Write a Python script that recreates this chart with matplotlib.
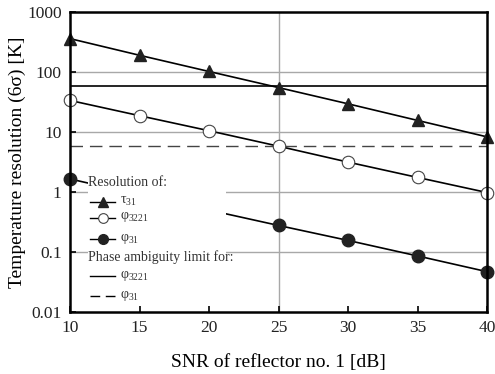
import matplotlib
matplotlib.use("Agg")
import matplotlib.pyplot as plt
from matplotlib.patches import Rectangle
from matplotlib.lines import Line2D

plt.rcParams['font.family'] = ['Liberation Serif', 'DejaVu Serif']
plt.rcParams['mathtext.fontset'] = 'custom'
plt.rcParams['mathtext.rm'] = 'Liberation Serif'
plt.rcParams['mathtext.it'] = 'Liberation Serif:italic'

# data
snr = [10, 15, 20, 25, 30, 35, 40]
tau31 = [360, 190, 102, 55, 29.5, 15.6, 8.3]
phi3221 = [33.6, 18.7, 10.5, 5.8, 3.15, 1.75, 0.98]
phi31 = [1.65, 0.9, 0.5, 0.277, 0.156, 0.086, 0.047]
limit_phi3221 = 57.6
limit_phi31 = 5.76

xticks = [10, 15, 20, 25, 30, 35, 40]
yticks = [0.01, 0.1, 1, 10, 100, 1000]
ytick_labels = ['0.01', '0.1', '1', '10', '100', '1000']

fig = plt.figure(figsize=(4.95, 3.74), dpi=100)
ax = fig.add_axes([70/495, 1 - 312/374, 417/495, 300/374])
ax.set_yscale('log')
ax.set_xlim(10, 40)
ax.set_ylim(0.01, 1000)

# grid: horizontal decades, vertical only at 25
for yv in yticks[1:-1]:
    ax.axhline(yv, color='#a8a8a8', lw=1.0, zorder=1)
ax.axvline(25, color='#a8a8a8', lw=1.0, zorder=1)

# phase ambiguity limits
ax.axhline(limit_phi3221, color='black', lw=1.2, zorder=2)
ax.axhline(limit_phi31, color='#444444', lw=1.0, dashes=(9, 5), zorder=2)

ax.plot(snr, tau31, '-', color='black', lw=1.2, marker='^', ms=9,
        mfc='#222222', mec='#222222', zorder=3, clip_on=False)
ax.plot(snr, phi3221, '-', color='black', lw=1.2, marker='o', ms=9,
        mfc='white', mec='#444444', mew=0.8, zorder=3, clip_on=False)
ax.plot(snr, phi31, '-', color='black', lw=1.2, marker='o', ms=9,
        mfc='#222222', mec='#222222', zorder=3, clip_on=False)

# hand made legend (white box hides what's behind)
ax.add_patch(Rectangle((0.043, 0.023), 0.331, 0.414, transform=ax.transAxes,
                       facecolor='white', edgecolor='none', zorder=4))

def ypx(p):
    return (312 - p) / 300

hx0, hx1, tx = (90 - 70) / 417, (115 - 70) / 417, (120 - 70) / 417
fs = 10
ax.text(hx0 - 0.004, ypx(183), 'Resolution of:', transform=ax.transAxes, fontsize=fs,
        va='center', ha='left', color='#333333', zorder=5)
ax.text(hx0 - 0.004, ypx(257), 'Phase ambiguity limit for:', transform=ax.transAxes,
        fontsize=fs, va='center', ha='left', color='#333333', zorder=5)

entries = [
    (201.5, r'τ$_{31}$', dict(marker='^', ms=7, mfc='#222222', mec='#222222'), '-'),
    (217.5, r'φ$_{3221}$', dict(marker='o', ms=7, mfc='white', mec='#444444', mew=0.8), '-'),
    (239, r'φ$_{31}$', dict(marker='o', ms=7, mfc='#222222', mec='#222222'), '-'),
    (276, r'φ$_{3221}$', dict(), '-'),
    (296, r'φ$_{31}$', dict(), '--'),
]
for p, label, mk, ls in entries:
    y = ypx(p)
    ln = Line2D([hx0, hx1], [y, y], transform=ax.transAxes, color='black',
                lw=1.0, ls=ls, zorder=5)
    if ls == '--':
        ln.set_dashes((7, 4))
    ax.add_line(ln)
    if mk:
        ax.add_line(Line2D([(hx0 + hx1) / 2], [y], transform=ax.transAxes,
                           ls='none', zorder=6, **mk))
    ax.text(tx, y, label, transform=ax.transAxes, fontsize=fs, va='center',
            ha='left', color='#333333', zorder=5)

ax.set_xticks(xticks)
ax.set_yticks(yticks)
ax.set_yticklabels(ytick_labels)
ax.minorticks_off()
ax.tick_params(direction='in', length=4, width=1.2, labelsize=12.5,
               labelcolor='#222222', pad=6)
for s in ax.spines.values():
    s.set_linewidth(1.8)
    s.set_zorder(7)

ax.set_xlabel('SNR of reflector no. 1 [dB]', fontsize=14, labelpad=13)
ax.set_ylabel('Temperature resolution (6σ) [K]', fontsize=14)
ax.yaxis.set_label_coords(-0.105, 0.5)

fig.savefig('out.png', dpi=100)
